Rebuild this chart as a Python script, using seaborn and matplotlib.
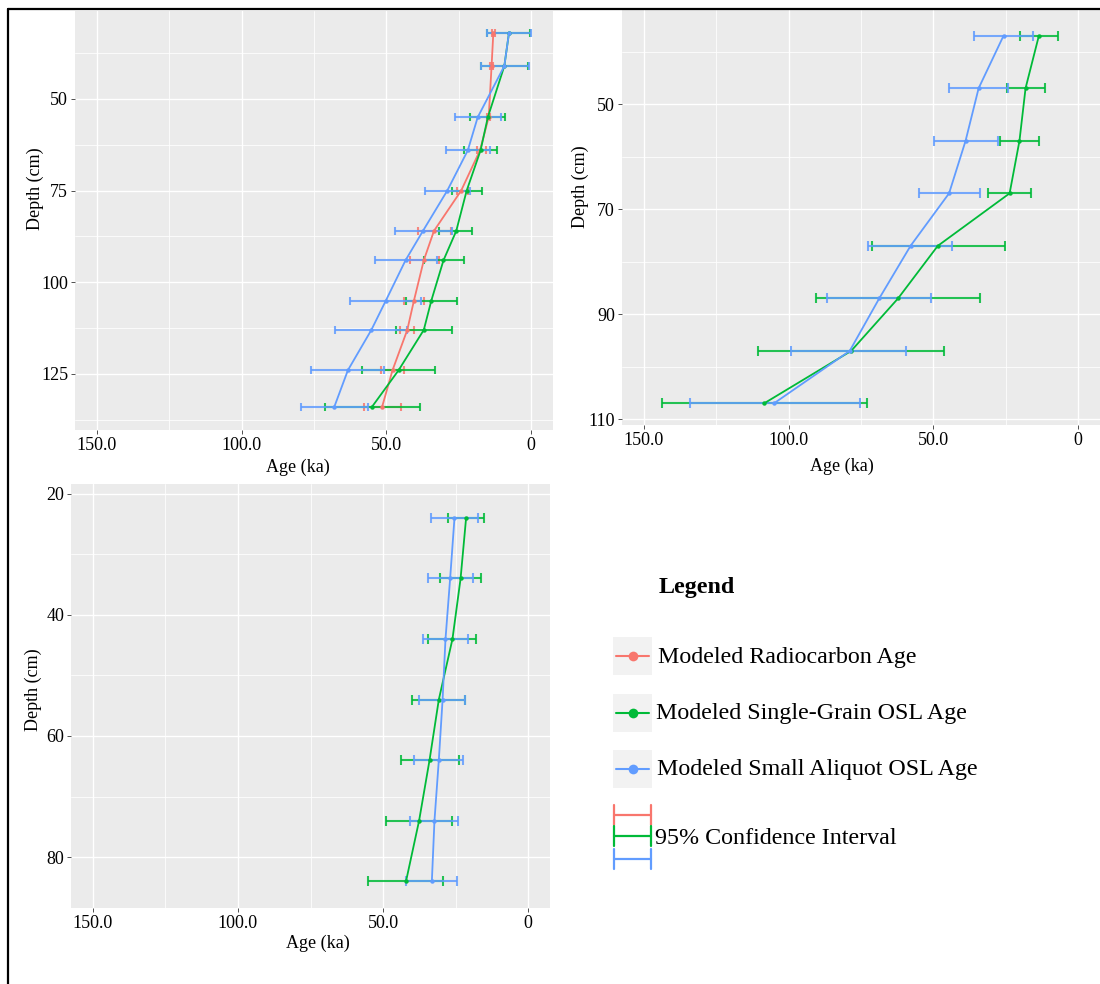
import numpy as np
import pandas as pd
import seaborn as sns
import matplotlib
matplotlib.use("Agg")
import matplotlib.pyplot as plt
from matplotlib.patches import Rectangle
from matplotlib.lines import Line2D

# ---------------- data ----------------
SERIES = ["Modeled Radiocarbon Age", "Modeled Single-Grain OSL Age", "Modeled Small Aliquot OSL Age"]
COLORS = {SERIES[0]: "#F8766D", SERIES[1]: "#00BA38", SERIES[2]: "#619CFF"}

# Core A (top left)
a_depth = [32, 41, 55, 64, 75, 86, 94, 105, 113, 124, 134]
a_c14_age = [13.1, 13.7, 14.7, 17.7, 24.2, 33.6, 37.1, 40.5, 42.8, 47.9, 51.5]
a_c14_lo = [12.6, 13.2, 14.2, 15.5, 21.7, 27.6, 31.7, 37.2, 40.6, 43.8, 45.1]
a_c14_hi = [13.7, 14.3, 15.4, 18.7, 25.7, 39.2, 41.7, 44.0, 45.2, 52.0, 57.8]
a_sg_age = [7.7, 9.3, 15.0, 17.5, 22.3, 25.9, 30.3, 34.5, 37.1, 45.8, 55.0]
a_sg_lo = [0.3, 1.0, 9.2, 12.0, 16.9, 20.4, 23.1, 25.7, 27.2, 33.1, 38.5]
a_sg_hi = [15.4, 17.5, 21.3, 23.1, 27.5, 31.7, 37.2, 43.3, 46.8, 58.6, 71.2]
a_sa_age = [7.7, 9.3, 18.5, 21.9, 29.0, 37.4, 43.4, 50.2, 55.2, 63.3, 68.0]
a_sa_lo = [0.0, 0.9, 10.4, 14.1, 21.1, 27.4, 32.6, 38.0, 42.8, 50.8, 56.3]
a_sa_hi = [15.4, 17.5, 26.3, 29.5, 36.8, 47.0, 54.0, 62.5, 67.9, 75.9, 79.6]

# Core B (top right)
b_depth = [37, 47, 57, 67, 77, 87, 97, 107]
b_sg_age = [13.6, 18.2, 20.3, 23.7, 48.5, 62.2, 78.4, 108.5]
b_sg_lo = [6.9, 11.5, 13.7, 16.2, 25.4, 34.0, 46.2, 72.8]
b_sg_hi = [20.1, 24.6, 27.0, 31.3, 71.1, 90.4, 110.4, 143.7]
b_sa_age = [25.8, 34.4, 38.9, 44.6, 57.9, 68.7, 78.9, 105.1]
b_sa_lo = [15.8, 24.4, 27.8, 34.0, 43.6, 50.7, 59.3, 75.5]
b_sa_hi = [35.9, 44.6, 49.7, 55.1, 72.6, 86.6, 99.0, 134.1]

# Core C (bottom left)
c_depth = [24, 34, 44, 54, 64, 74, 84]
c_sg_age = [21.4, 23.3, 26.1, 30.8, 34.0, 37.6, 42.1]
c_sg_lo = [15.1, 16.3, 18.0, 21.8, 23.8, 26.2, 29.3]
c_sg_hi = [27.5, 30.5, 34.6, 40.0, 43.9, 48.9, 55.1]
c_sa_age = [25.4, 26.9, 28.5, 29.5, 30.8, 32.3, 33.2]
c_sa_lo = [17.4, 19.1, 20.6, 21.8, 22.6, 24.1, 24.5]
c_sa_hi = [33.5, 34.5, 36.1, 37.6, 39.2, 40.7, 42.1]

x_ticks = [150, 100, 50, 0]
x_ticklabels = ["150.0", "100.0", "50.0", "0"]
x_minor = [125, 75, 25]

# ---------------- style ----------------
sns.set_theme(style="darkgrid")
plt.rcParams["font.family"] = ["Liberation Serif", "DejaVu Serif"]
plt.rcParams["text.color"] = "black"

W, H = 1100, 984
fig = plt.figure(figsize=(W / 100, H / 100), dpi=100)


def px_axes(x0, y0, x1, y1):
    return fig.add_axes([x0 / W, 1 - y1 / H, (x1 - x0) / W, (y1 - y0) / H])


def draw_panel(ax, depth, series, ylim, yticks, yminor, capsize, xlab_pos, ylab_pos):
    # error bars first, then lines and points on top
    for name, (age, lo, hi) in series.items():
        age = np.asarray(age); lo = np.asarray(lo); hi = np.asarray(hi)
        ax.errorbar(age, depth, xerr=[age - lo, hi - age], fmt="none",
                    ecolor=COLORS[name], elinewidth=1.5, capsize=capsize,
                    capthick=1.5, alpha=0.85, zorder=2)
    frames = []
    for name, (age, lo, hi) in series.items():
        frames.append(pd.DataFrame({"age": age, "depth": depth, "series": name}))
    df = pd.concat(frames, ignore_index=True)
    sns.lineplot(data=df, x="age", y="depth", hue="series", palette=COLORS,
                 sort=False, estimator=None, marker="o", markersize=3.2,
                 markeredgewidth=0, linewidth=1.3, legend=False, ax=ax, zorder=3)

    ax.set_facecolor("#EBEBEB")
    ax.set_xlim(157.5, -7.5)
    ax.set_ylim(*ylim)
    ax.set_xticks(x_ticks)
    ax.set_xticklabels(x_ticklabels)
    ax.set_xticks(x_minor, minor=True)
    ax.set_yticks(yticks)
    ax.set_yticks(yminor, minor=True)
    ax.grid(which="major", color="white", linewidth=1.0)
    ax.grid(which="minor", color="white", linewidth=0.55)
    ax.set_axisbelow(True)
    for s in ax.spines.values():
        s.set_visible(False)
    ax.tick_params(which="major", bottom=True, left=True, length=3, width=0.6,
                   color="#333333", labelsize=13, labelcolor="black", pad=2)
    ax.tick_params(which="minor", length=0)
    ax.set_xlabel("Age (ka)", fontsize=13, color="black")
    ax.set_ylabel("Depth (cm)", fontsize=13, color="black")
    ax.xaxis.set_label_coords(*xlab_pos)
    ax.xaxis.label.set_verticalalignment("center")
    ax.yaxis.set_label_coords(*ylab_pos)
    ax.yaxis.label.set_verticalalignment("center")


ax1 = px_axes(75, 11, 553, 430)
draw_panel(ax1, a_depth,
           {SERIES[0]: (a_c14_age, a_c14_lo, a_c14_hi),
            SERIES[1]: (a_sg_age, a_sg_lo, a_sg_hi),
            SERIES[2]: (a_sa_age, a_sa_lo, a_sa_hi)},
           (140.3, 26.0), [50, 75, 100, 125], [37.5, 62.5, 87.5, 112.5, 137.5], 2.6,
           (0.4665, -0.088), (-0.0837, 0.575))

ax2 = px_axes(622, 10, 1100, 425)
draw_panel(ax2, b_depth,
           {SERIES[1]: (b_sg_age, b_sg_lo, b_sg_hi),
            SERIES[2]: (b_sa_age, b_sa_lo, b_sa_hi)},
           (111.1, 32.1), [50, 70, 90, 110], [40, 60, 80, 100], 3.8,
           (0.4603, -0.0988), (-0.0879, 0.5735))

ax3 = px_axes(71, 484, 550, 908)
draw_panel(ax3, c_depth,
           {SERIES[1]: (c_sg_age, c_sg_lo, c_sg_hi),
            SERIES[2]: (c_sa_age, c_sa_lo, c_sa_hi)},
           (88.4, 18.4), [20, 40, 60, 80], [30, 50, 70], 3.6,
           (0.5146, -0.0825), (-0.0793, 0.514))

# ---------------- legend ----------------
lg = px_axes(600, 560, 1000, 880)
lg.set_xlim(600, 1000)
lg.set_ylim(880, 560)
lg.axis("off")
lg.text(659, 588, "Legend", fontsize=17.3, fontweight="bold", va="center", ha="left",
        color="black")
for name, yc, tx in [(SERIES[0], 656, 658), (SERIES[1], 713, 656), (SERIES[2], 769, 657)]:
    lg.add_patch(Rectangle((613, yc - 19), 39, 38, facecolor="#F2F2F2", edgecolor="none"))
    lg.add_line(Line2D([616, 649], [yc, yc], color=COLORS[name], linewidth=1.5))
    lg.plot([632.5], [yc], "o", color=COLORS[name], markersize=7, markeredgewidth=0)
    lg.text(tx, yc + 1, name, fontsize=17.3, va="center", ha="left", color="black")
for name, yc in [(SERIES[0], 815), (SERIES[1], 836), (SERIES[2], 859)]:
    c = COLORS[name]
    lg.add_line(Line2D([614, 651], [yc, yc], color=c, linewidth=1.6))
    lg.add_line(Line2D([614, 614], [yc - 10, yc + 10], color=c, linewidth=1.6))
    lg.add_line(Line2D([651, 651], [yc - 10, yc + 10], color=c, linewidth=1.6))
lg.text(655, 838, "95% Confidence Interval", fontsize=17.3, va="center", ha="left",
        color="black")

# ---------------- frame ----------------
fig.add_artist(Line2D([8 / W, 8 / W], [0, 1 - 9 / H], color="black", linewidth=1.6,
                      transform=fig.transFigure))
fig.add_artist(Line2D([8 / W, 1], [1 - 9 / H, 1 - 9 / H], color="black", linewidth=1.6,
                      transform=fig.transFigure))

fig.savefig("out.png", dpi=100, facecolor="white")
